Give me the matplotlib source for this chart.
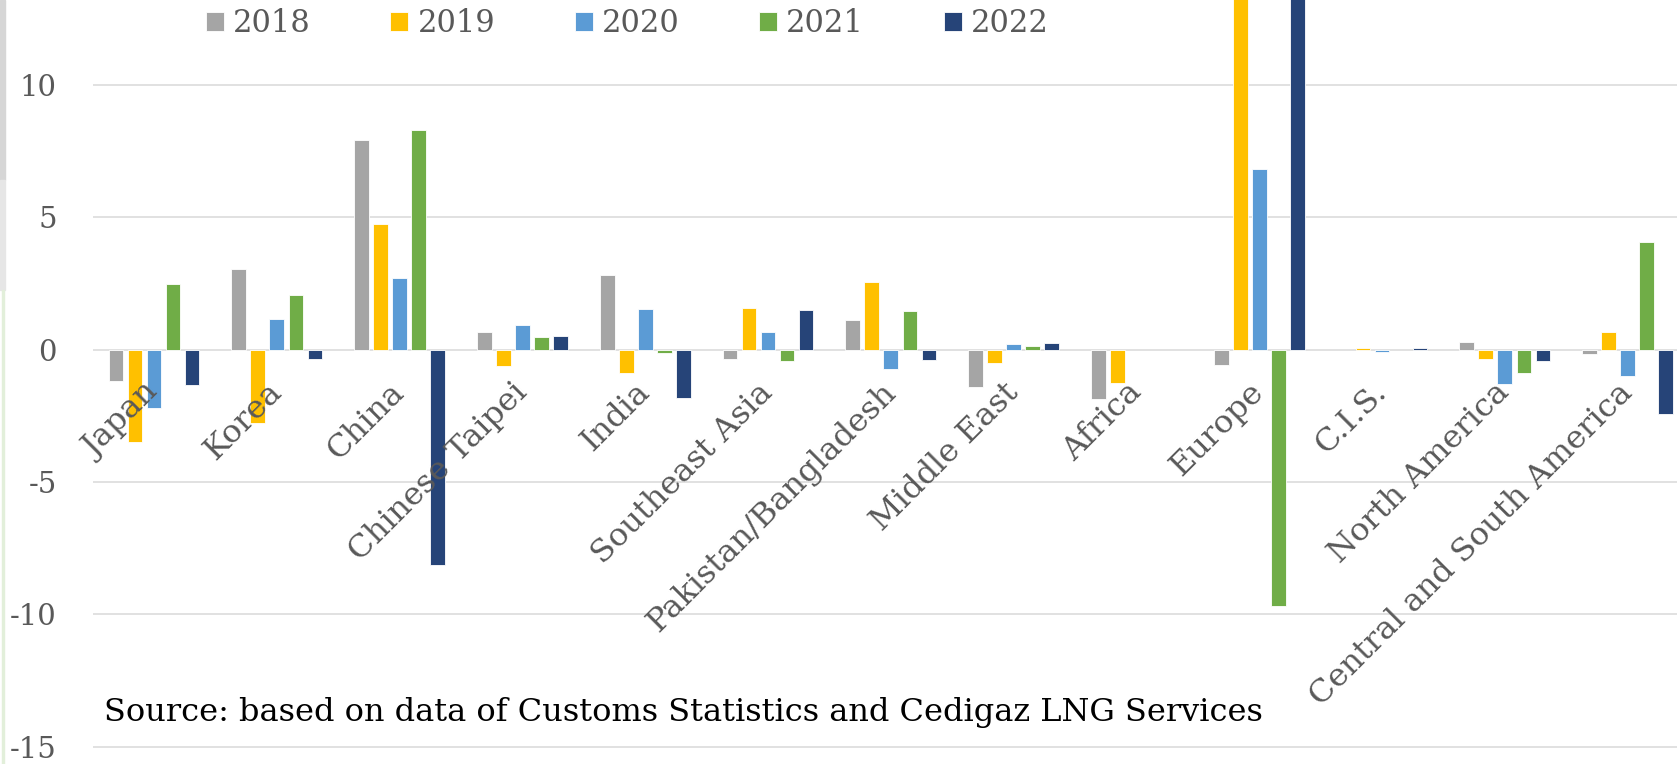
# Change in LNG imports by region, 2018-2022 (clustered bar chart, Excel style)

import numpy as np
import matplotlib
matplotlib.use("Agg")
import matplotlib.pyplot as plt
from matplotlib.patches import Rectangle
from matplotlib.transforms import offset_copy

regions = ["Japan", "Korea", "China", "Chinese Taipei", "India", "Southeast Asia",
           "Pakistan/Bangladesh", "Middle East", "Africa", "Europe", "C.I.S.",
           "North America", "Central and South America"]
years = ["2018", "2019", "2020", "2021", "2022"]
nan = np.nan

v2018 = [-1.18, 3.05, 7.92, 0.65, 2.82, -0.35, 1.14, -1.41, -1.86, -0.58, nan, 0.30, -0.15]
v2019 = [-3.47, -2.77, 4.73, -0.60, -0.88, 1.58, 2.57, -0.50, -1.26, 15.0, 0.06, -0.35, 0.66]
v2020 = [-2.19, 1.16, 2.71, 0.93, 1.53, 0.67, -0.73, 0.22, nan, 6.82, -0.08, -1.28, -0.99]
v2021 = [2.49, 2.08, 8.29, 0.47, -0.12, -0.41, 1.48, 0.13, nan, -9.69, nan, -0.88, 4.05]
v2022 = [-1.34, -0.36, -8.15, 0.52, -1.81, 1.50, -0.38, 0.25, nan, 19.0, 0.05, -0.42, -2.43]
series = [v2018, v2019, v2020, v2021, v2022]
colors = ["#A5A5A5", "#FFC000", "#5B9BD5", "#70AD47", "#264478"]

source_note = "Source: based on data of Customs Statistics and Cedigaz LNG Services"

W, H = 1677, 764
plt.rcParams['font.family'] = ['DejaVu Serif']
plt.rcParams['axes.unicode_minus'] = False

fig = plt.figure(figsize=(W / 100, H / 100), dpi=100)

# plot area is cropped by the screenshot on top, bottom and right
left_px = 92.65
pitch_px = 122.8
ax = fig.add_axes([left_px / W, 0, 1 - left_px / W, 1])

x = np.arange(len(regions))
step = 0.155
width = 0.12
for k, (vals, col, yr) in enumerate(zip(series, colors, years)):
    ax.bar(x + (k - 2) * step, vals, width, color=col, label=yr,
           edgecolor="white", linewidth=0.6, zorder=2)

ax.set_xlim(-0.5, -0.5 + (W - left_px) / pitch_px)
ax.set_ylim(-15.65, 13.21)
ax.set_yticks([-15, -10, -5, 0, 5, 10])
ax.set_xticks([])
ax.tick_params(axis="y", length=0, pad=26, labelsize=21, labelcolor="#595959")
ax.yaxis.grid(True, color="#D9D9D9", linewidth=1.1)
ax.set_axisbelow(True)
for sp in ax.spines.values():
    sp.set_visible(False)

# rotated category labels, ends aligned just under the zero line
lab_tr = offset_copy(ax.transData, fig=fig, x=6, y=-44, units="dots")
for xi, name in zip(x, regions):
    ax.text(xi, 0, name, transform=lab_tr, rotation=45, rotation_mode="anchor",
            ha="right", va="baseline", fontsize=23, color="#595959", clip_on=False)

leg = ax.legend(ncol=5, loc="center left", bbox_to_anchor=(206 / W, 1 - 24 / H),
                bbox_transform=fig.transFigure, frameon=False, fontsize=22,
                handlelength=0.59, handleheight=0.59, handletextpad=0.3,
                columnspacing=2.6, borderpad=0, borderaxespad=0)
for t in leg.get_texts():
    t.set_color("#595959")

fig.text(104 / W, 1 - 721 / H, source_note, fontsize=23, color="black", va="baseline")

# thin window border at the left edge of the screenshot
fig.patches.append(Rectangle((0, 1 - 180 / H), 5 / W, 180 / H, transform=fig.transFigure,
                             color="#D6D6D6", zorder=0))
fig.patches.append(Rectangle((0, 1 - 290 / H), 5 / W, 110 / H, transform=fig.transFigure,
                             color="#E6E6E6", zorder=0))
fig.patches.append(Rectangle((2 / W, 0), 2 / W, 1 - 290 / H, transform=fig.transFigure,
                             color="#E2EFDA", zorder=0))

plt.savefig("out.png", dpi=100)
